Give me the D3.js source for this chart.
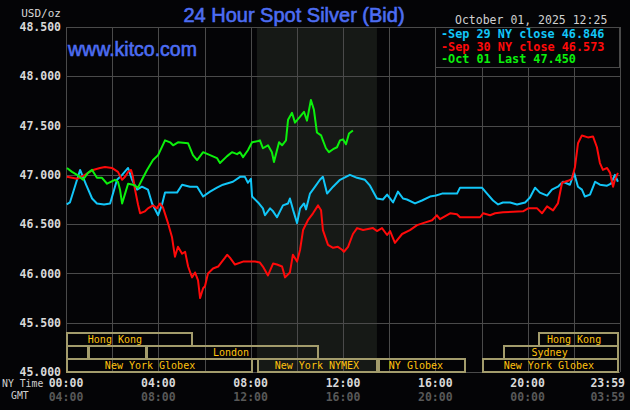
<!DOCTYPE html>
<html>
<head>
<meta charset="utf-8">
<script src="https://cdn.jsdelivr.net/npm/d3@7"></script>
<style>
  body { margin: 0; background: #000; }
  svg { display: block; font-family: 'DejaVu Sans Mono', monospace; }
</style>
</head>
<body>
<svg width="630" height="410"></svg>
<script>
// [hours after 00:00 NY time, USD/oz]
const sep29 = [
  [0.03, 46.70], [0.17, 46.72], [0.61, 47.05], [0.87, 46.90], [1.13, 46.76], [1.34, 46.71],
  [1.65, 46.70], [1.91, 46.71], [2.21, 46.95], [2.43, 47.00], [2.69, 47.07], [2.86, 46.95],
  [3.08, 46.85], [3.29, 46.88], [3.55, 46.85], [3.73, 46.71], [3.99, 46.59], [4.16, 46.70],
  [4.29, 46.82], [4.59, 46.82], [4.81, 46.82], [5.03, 46.90], [5.37, 46.88], [5.68, 46.88],
  [5.94, 46.78], [6.24, 46.83], [6.54, 46.87], [6.80, 46.90], [7.23, 46.93], [7.54, 46.98],
  [7.75, 46.98], [7.88, 46.92], [8.01, 46.96], [8.06, 46.78], [8.32, 46.72], [8.53, 46.66],
  [8.62, 46.59], [8.84, 46.66], [8.97, 46.63], [9.14, 46.57], [9.40, 46.69], [9.62, 46.71],
  [9.70, 46.76], [9.83, 46.65], [10.01, 46.51], [10.14, 46.66], [10.31, 46.71], [10.40, 46.65],
  [10.57, 46.81], [10.79, 46.88], [11.00, 46.95], [11.13, 46.98], [11.31, 46.81], [11.57, 46.88],
  [11.87, 46.95], [12.30, 47.00], [12.61, 46.97], [12.95, 46.95], [13.17, 46.89], [13.47, 46.76],
  [13.73, 46.75], [13.91, 46.80], [14.17, 46.72], [14.38, 46.83], [14.60, 46.76], [14.77, 46.75],
  [15.12, 46.71], [15.42, 46.74], [15.77, 46.78], [16.03, 46.79], [16.29, 46.81], [16.64, 46.81],
  [16.94, 46.81], [17.07, 46.87], [18.02, 46.87], [18.24, 46.81], [18.50, 46.74], [18.72, 46.70],
  [18.93, 46.72], [19.24, 46.72], [19.54, 46.70], [19.89, 46.72], [20.10, 46.77], [20.32, 46.87],
  [20.53, 46.82], [20.84, 46.79], [21.05, 46.85], [21.31, 46.88], [21.53, 46.93], [21.83, 46.90],
  [22.01, 47.02], [22.18, 46.88], [22.35, 46.85], [22.48, 46.78], [22.70, 46.80], [22.92, 46.93],
  [23.13, 46.90], [23.44, 46.89], [23.61, 46.91], [23.78, 47.00], [23.91, 46.93]
];

const sep30 = [
  [0.04, 46.98], [0.48, 46.96], [0.82, 47.00], [1.17, 47.05], [1.47, 47.07], [1.69, 47.08],
  [1.99, 47.07], [2.25, 47.03], [2.43, 46.95], [2.56, 46.98], [2.69, 47.03], [2.82, 47.05],
  [2.90, 46.98], [2.99, 46.85], [3.12, 46.70], [3.21, 46.61], [3.42, 46.63], [3.55, 46.66],
  [3.77, 46.69], [3.94, 46.66], [4.07, 46.71], [4.20, 46.67], [4.42, 46.51], [4.59, 46.37],
  [4.72, 46.17], [4.85, 46.27], [5.03, 46.20], [5.16, 46.22], [5.29, 46.07], [5.46, 45.96],
  [5.59, 46.01], [5.72, 45.93], [5.81, 45.75], [5.94, 45.85], [6.02, 45.87], [6.15, 46.00],
  [6.37, 46.05], [6.59, 46.07], [6.89, 46.16], [6.98, 46.19], [7.10, 46.16], [7.32, 46.09],
  [7.67, 46.12], [7.97, 46.12], [8.19, 46.12], [8.40, 46.11], [8.53, 46.07], [8.75, 45.98],
  [8.97, 46.10], [9.14, 46.09], [9.36, 46.07], [9.49, 45.96], [9.70, 46.01], [9.83, 46.19],
  [10.01, 46.12], [10.14, 46.24], [10.27, 46.44], [10.48, 46.54], [10.70, 46.61], [10.92, 46.69],
  [11.05, 46.64], [11.13, 46.44], [11.35, 46.29], [11.57, 46.26], [11.78, 46.27], [11.96, 46.24],
  [12.04, 46.22], [12.22, 46.27], [12.43, 46.40], [12.61, 46.46], [12.87, 46.44], [13.30, 46.46],
  [13.47, 46.43], [13.69, 46.46], [13.91, 46.39], [14.04, 46.43], [14.25, 46.31], [14.56, 46.40],
  [14.90, 46.44], [15.21, 46.49], [15.47, 46.51], [15.86, 46.54], [16.07, 46.59], [16.20, 46.55],
  [16.64, 46.61], [16.94, 46.60], [17.07, 46.57], [17.94, 46.57], [18.07, 46.61], [18.37, 46.59],
  [18.59, 46.61], [18.93, 46.62], [19.80, 46.63], [20.02, 46.66], [20.41, 46.66], [20.62, 46.61],
  [20.84, 46.68], [21.10, 46.64], [21.31, 46.71], [21.49, 46.92], [21.75, 46.94], [21.92, 46.96],
  [22.05, 47.08], [22.18, 47.32], [22.35, 47.40], [22.61, 47.38], [22.83, 47.39], [23.00, 47.28],
  [23.13, 47.12], [23.26, 47.05], [23.44, 47.07], [23.57, 47.02], [23.70, 46.88], [23.78, 46.95],
  [23.91, 47.02]
];

const oct01 = [
  [0.04, 47.07], [0.26, 47.03], [0.48, 47.00], [0.74, 46.95], [0.95, 47.02], [1.13, 47.05],
  [1.34, 46.97], [1.56, 46.97], [1.78, 46.91], [2.12, 46.95], [2.25, 46.93], [2.34, 46.85],
  [2.43, 46.71], [2.56, 46.81], [2.69, 46.91], [2.90, 46.90], [3.12, 46.87], [3.29, 46.95],
  [3.51, 47.05], [3.77, 47.15], [3.99, 47.20], [4.29, 47.35], [4.51, 47.33], [4.64, 47.30],
  [4.85, 47.33], [5.29, 47.32], [5.50, 47.20], [5.68, 47.15], [5.94, 47.23], [6.24, 47.20],
  [6.54, 47.17], [6.67, 47.12], [6.98, 47.19], [7.19, 47.23], [7.41, 47.21], [7.54, 47.23],
  [7.67, 47.18], [7.88, 47.25], [8.06, 47.33], [8.27, 47.34], [8.40, 47.35], [8.53, 47.27],
  [8.75, 47.30], [8.92, 47.23], [9.01, 47.13], [9.14, 47.25], [9.23, 47.33], [9.36, 47.30],
  [9.53, 47.35], [9.62, 47.56], [9.79, 47.63], [9.92, 47.53], [10.14, 47.59], [10.31, 47.64],
  [10.44, 47.55], [10.61, 47.76], [10.74, 47.66], [10.87, 47.43], [11.05, 47.40], [11.13, 47.35],
  [11.26, 47.27], [11.39, 47.23], [11.57, 47.26], [11.74, 47.28], [11.87, 47.35], [12.00, 47.36],
  [12.13, 47.31], [12.26, 47.42], [12.43, 47.45]
];

const seriesLabels = ['Sep 29 NY close 46.846', 'Sep 30 NY close 46.573', 'Oct 01 Last 47.450'];
const seriesColors = ['#12c6f8', '#ff0a0a', '#0cf00c'];

const yTicks = [45, 45.5, 46, 46.5, 47, 47.5, 48, 48.5];
const gridHours = d3.range(0, 25, 2);
const labelHours = [0, 4, 8, 12, 16, 20, 24];
const nyTimeLabels = ['00:00', '04:00', '08:00', '12:00', '16:00', '20:00', '23:59'];
const gmtLabels = ['04:00', '08:00', '12:00', '16:00', '20:00', '00:00', '03:59'];

const nymexHours = [8.27, 13.47];

// market sessions: row, start, end, label, label centre
const sessions = [
  { row: 0, start: 0, end: 5.47, name: 'Hong Kong', at: 2.12 },
  { row: 0, start: 20.45, end: 23.9, name: 'Hong Kong', at: 22.01 },
  { row: 1, start: 0, end: 0.95, name: '', at: 0 },
  { row: 1, start: 0.95, end: 3.47, name: '', at: 0 },
  { row: 1, start: 3.47, end: 10.92, name: 'London', at: 7.15 },
  { row: 1, start: 18.94, end: 23.9, name: 'Sydney', at: 20.95 },
  { row: 2, start: 0, end: 8.05, name: 'New York Globex', at: 3.64 },
  { row: 2, start: 8.27, end: 13.47, name: 'New York NYMEX', at: 10.87 },
  { row: 2, start: 13.52, end: 17.27, name: 'NY Globex', at: 15.16 },
  { row: 2, start: 18.01, end: 23.9, name: 'New York Globex', at: 20.92 }
];

const svg = d3.select('svg');
const width = +svg.attr('width');
const height = +svg.attr('height');

const margin = { top: 27, right: 10, bottom: 38, left: 66 };
const x = d3.scaleLinear().domain([0, 24]).range([margin.left, width - margin.right]);
const y = d3.scaleLinear().domain([45, 48.5]).range([height - margin.bottom, margin.top]);
const rowY = d3.scaleBand().domain([0, 1, 2]).range([333, 372]);

const gridColor = '#4a4a4a';
const sans = 'Liberation Sans, Arial, sans-serif';

svg.append('rect').attr('width', width).attr('height', height).attr('fill', '#040406');

// NYMEX hours shading
svg.append('rect')
  .attr('x', x(nymexHours[0]))
  .attr('y', y(48.5))
  .attr('width', x(nymexHours[1]) - x(nymexHours[0]))
  .attr('height', y(45) - y(48.5))
  .attr('fill', '#161916');

// grid
svg.append('g')
  .selectAll('line')
  .data(yTicks)
  .join('line')
    .attr('x1', x(0)).attr('x2', x(24))
    .attr('y1', d => Math.round(y(d)) + 0.5).attr('y2', d => Math.round(y(d)) + 0.5)
    .attr('stroke', gridColor);

svg.append('g')
  .selectAll('line')
  .data(gridHours)
  .join('line')
    .attr('x1', d => Math.round(x(d)) + 0.5).attr('x2', d => Math.round(x(d)) + 0.5)
    .attr('y1', y(48.5)).attr('y2', y(45))
    .attr('stroke', gridColor);

// y labels
svg.append('g')
  .attr('transform', `translate(${x(0)},0)`)
  .call(d3.axisLeft(y).tickValues(yTicks).tickFormat(d3.format('.3f')).tickSize(0).tickPadding(5))
  .call(g => g.select('.domain').remove())
  .attr('font-family', null)
  .attr('font-size', 11.5)
  .attr('font-weight', 'bold')
  .selectAll('text')
    .attr('fill', '#d8d8d8');

svg.append('text')
  .attr('x', 61).attr('y', 17)
  .attr('text-anchor', 'end')
  .attr('fill', '#d8d8d8')
  .attr('font-size', 11)
  .text('USD/oz');

// market sessions
const sessionG = svg.append('g');
sessionG.selectAll('rect')
  .data(sessions)
  .join('rect')
    .attr('x', d => Math.round(x(d.start)) + 1)
    .attr('y', d => rowY(d.row))
    .attr('width', d => Math.round(x(d.end)) - Math.round(x(d.start)) - 1)
    .attr('height', rowY.bandwidth())
    .attr('fill', 'none')
    .attr('stroke', '#a39c6c')
    .attr('stroke-width', 2);

sessionG.selectAll('text')
  .data(sessions.filter(d => d.name))
  .join('text')
    .attr('x', d => x(d.at))
    .attr('y', d => rowY(d.row) + 10)
    .attr('text-anchor', 'middle')
    .attr('fill', '#ffc20e')
    .attr('font-size', 10)
    .text(d => d.name);

// price lines
const line = d3.line()
  .x(d => x(d[0]))
  .y(d => y(d[1]));

svg.append('g')
  .selectAll('path')
  .data([sep29, sep30, oct01])
  .join('path')
    .attr('d', line)
    .attr('fill', 'none')
    .attr('stroke', (d, i) => seriesColors[i])
    .attr('stroke-width', 2)
    .attr('stroke-linejoin', 'round');

// legend
const legend = svg.append('g');
legend.append('rect')
  .attr('x', 435.5).attr('y', 27.5)
  .attr('width', 184).attr('height', 40)
  .attr('fill', '#040406')
  .attr('stroke', gridColor);

legend.selectAll('text')
  .data(seriesLabels)
  .join('text')
    .attr('x', 441)
    .attr('y', (d, i) => 38 + i * 12.5)
    .attr('fill', (d, i) => seriesColors[i])
    .attr('font-size', 11.8)
    .attr('font-weight', 'bold')
    .text(d => '-' + d);

// x labels
const lastIdx = labelHours.length - 1;
const xLabels = svg.append('g').attr('font-size', 11.5).attr('font-weight', 'bold');
xLabels.append('g').selectAll('text')
  .data(labelHours)
  .join('text')
    .attr('x', (d, i) => i === lastIdx ? 625 : x(d))
    .attr('y', 387)
    .attr('text-anchor', (d, i) => i === lastIdx ? 'end' : 'middle')
    .attr('fill', '#d8d8d8')
    .text((d, i) => nyTimeLabels[i]);

xLabels.append('g').selectAll('text')
  .data(labelHours)
  .join('text')
    .attr('x', (d, i) => i === lastIdx ? 625 : x(d))
    .attr('y', 401)
    .attr('text-anchor', (d, i) => i === lastIdx ? 'end' : 'middle')
    .attr('fill', '#585858')
    .text((d, i) => gmtLabels[i]);

svg.append('text').attr('x', 2).attr('y', 387).attr('fill', '#d0d0d0').attr('font-size', 9.8).text('NY Time');
svg.append('text').attr('x', 11).attr('y', 399).attr('fill', '#d0d0d0').attr('font-size', 9.8).text('GMT');

// titles
svg.append('text')
  .attr('x', 294).attr('y', 22)
  .attr('text-anchor', 'middle')
  .style('font-family', sans)
  .attr('font-size', 20)
  .attr('fill', '#4d6df2')
  .attr('stroke', '#4d6df2')
  .attr('stroke-width', 0.6)
  .text('24 Hour Spot Silver (Bid)');

svg.append('text')
  .attr('x', 68).attr('y', 56)
  .style('font-family', sans)
  .attr('font-size', 19.5)
  .attr('fill', '#4d6df2')
  .attr('stroke', '#4d6df2')
  .attr('stroke-width', 0.6)
  .text('www.kitco.com');

svg.append('text')
  .attr('x', 455).attr('y', 24)
  .attr('fill', '#d0d0d0')
  .attr('font-size', 11.5)
  .text('October 01, 2025 12:25');
</script>
</body>
</html>
